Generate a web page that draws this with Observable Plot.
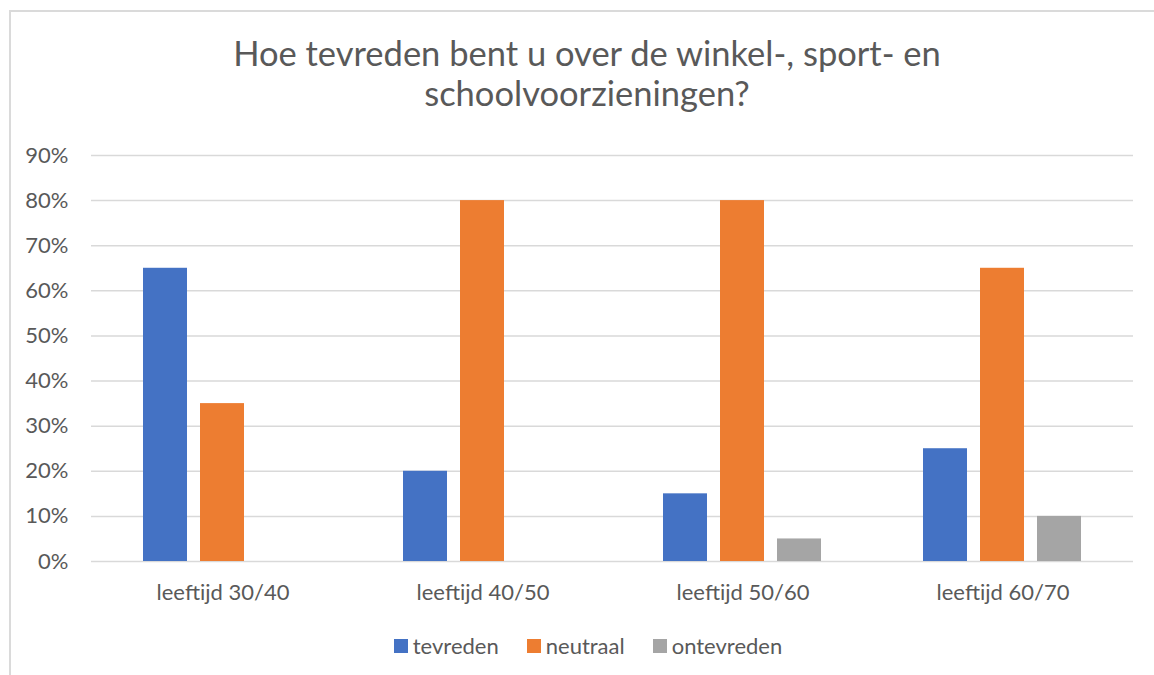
<!DOCTYPE html>
<html>
<head>
<meta charset="utf-8">
<script src="https://cdn.jsdelivr.net/npm/d3@7"></script>
<script src="https://cdn.jsdelivr.net/npm/@observablehq/plot@0.6"></script>
<style>
  html, body { margin: 0; padding: 0; background: #fff; }
  body { width: 1154px; height: 675px; position: relative; overflow: hidden; font-family: Lato, "Open Sans", sans-serif; color: #595959; }
  #frame { position: absolute; left: 9px; top: 10px; width: 1200px; height: 700px; border-left: 2px solid #dadada; border-top: 2px solid #dadada; }
  #title { position: absolute; left: 0; width: 1174px; top: 33px; text-align: center; font-family: Lato, "Open Sans", sans-serif; font-weight: 400; font-size: 34.5px; line-height: 40px; color: #595959; }
  .layer { position: absolute; left: 0; top: 135px; }
  #legend { position: absolute; left: 0; width: 1176px; top: 632px; display: flex; justify-content: center; align-items: center; font-size: 22px; color: #595959; }
  .item { display: flex; align-items: center; margin: 0 14px; }
  .sw { width: 14px; height: 14px; margin-right: 5px; }
</style>
</head>
<body>
<div id="frame"></div>
<div id="title">Hoe tevreden bent u over de winkel-, sport- en<br>schoolvoorzieningen?</div>
<div id="bg" class="layer"></div>
<div id="fg" class="layer"></div>
<div id="legend"></div>
<script>
const groups = ["leeftijd 30/40", "leeftijd 40/50", "leeftijd 50/60", "leeftijd 60/70"];
const series = ["tevreden", "neutraal", "ontevreden"];
const tevreden = [0.65, 0.20, 0.15, 0.25];
const neutraal = [0.35, 0.80, 0.80, 0.65];
const ontevreden = [0.00, 0.00, 0.05, 0.10];
const yTicks = [0, 0.1, 0.2, 0.3, 0.4, 0.5, 0.6, 0.7, 0.8, 0.9];
const colors = ["#4472C4", "#ED7D31", "#A5A5A5"];

const valuesBySeries = [tevreden, neutraal, ontevreden];
const data = [];
groups.forEach((g, i) => {
  series.forEach((s, j) => data.push({group: g, series: s, value: valuesBySeries[j][i]}));
});

const common = {
  width: 1154, height: 486,
  marginLeft: 91, marginRight: 21, marginTop: 20, marginBottom: 60,
  style: {fontFamily: "Lato, 'Open Sans', sans-serif", fontSize: "22px", color: "#595959", background: "transparent", overflow: "visible"}
};

const bg = Plot.plot({
  ...common,
  y: {domain: [0, 0.9], axis: null},
  marks: [
    Plot.ruleY(yTicks, {stroke: "#d9d9d9", strokeWidth: 1.5}),
    Plot.axisY(yTicks, {tickSize: 0, tickPadding: 23, tickFormat: d3.format(".0%"), label: null, fontSize: 22})
  ]
});
document.getElementById("bg").appendChild(bg);

const fg = Plot.plot({
  ...common,
  fx: {domain: groups, paddingInner: 0.382, paddingOuter: 0.191, axis: "bottom", tickSize: 0, tickPadding: 23, label: null},
  x: {domain: series, paddingInner: 0.224, paddingOuter: 0, axis: null},
  y: {domain: [0, 0.9], axis: null},
  color: {domain: series, range: colors},
  marks: [
    Plot.barY(data, {fx: "group", x: "series", y: "value", fill: "series"})
  ]
});
document.getElementById("fg").appendChild(fg);

const legend = document.getElementById("legend");
series.forEach((s, j) => {
  const item = document.createElement("div");
  item.className = "item";
  const sw = document.createElement("div");
  sw.className = "sw";
  sw.style.background = colors[j];
  const label = document.createElement("span");
  label.textContent = s;
  item.appendChild(sw);
  item.appendChild(label);
  legend.appendChild(item);
});
</script>
</body>
</html>
